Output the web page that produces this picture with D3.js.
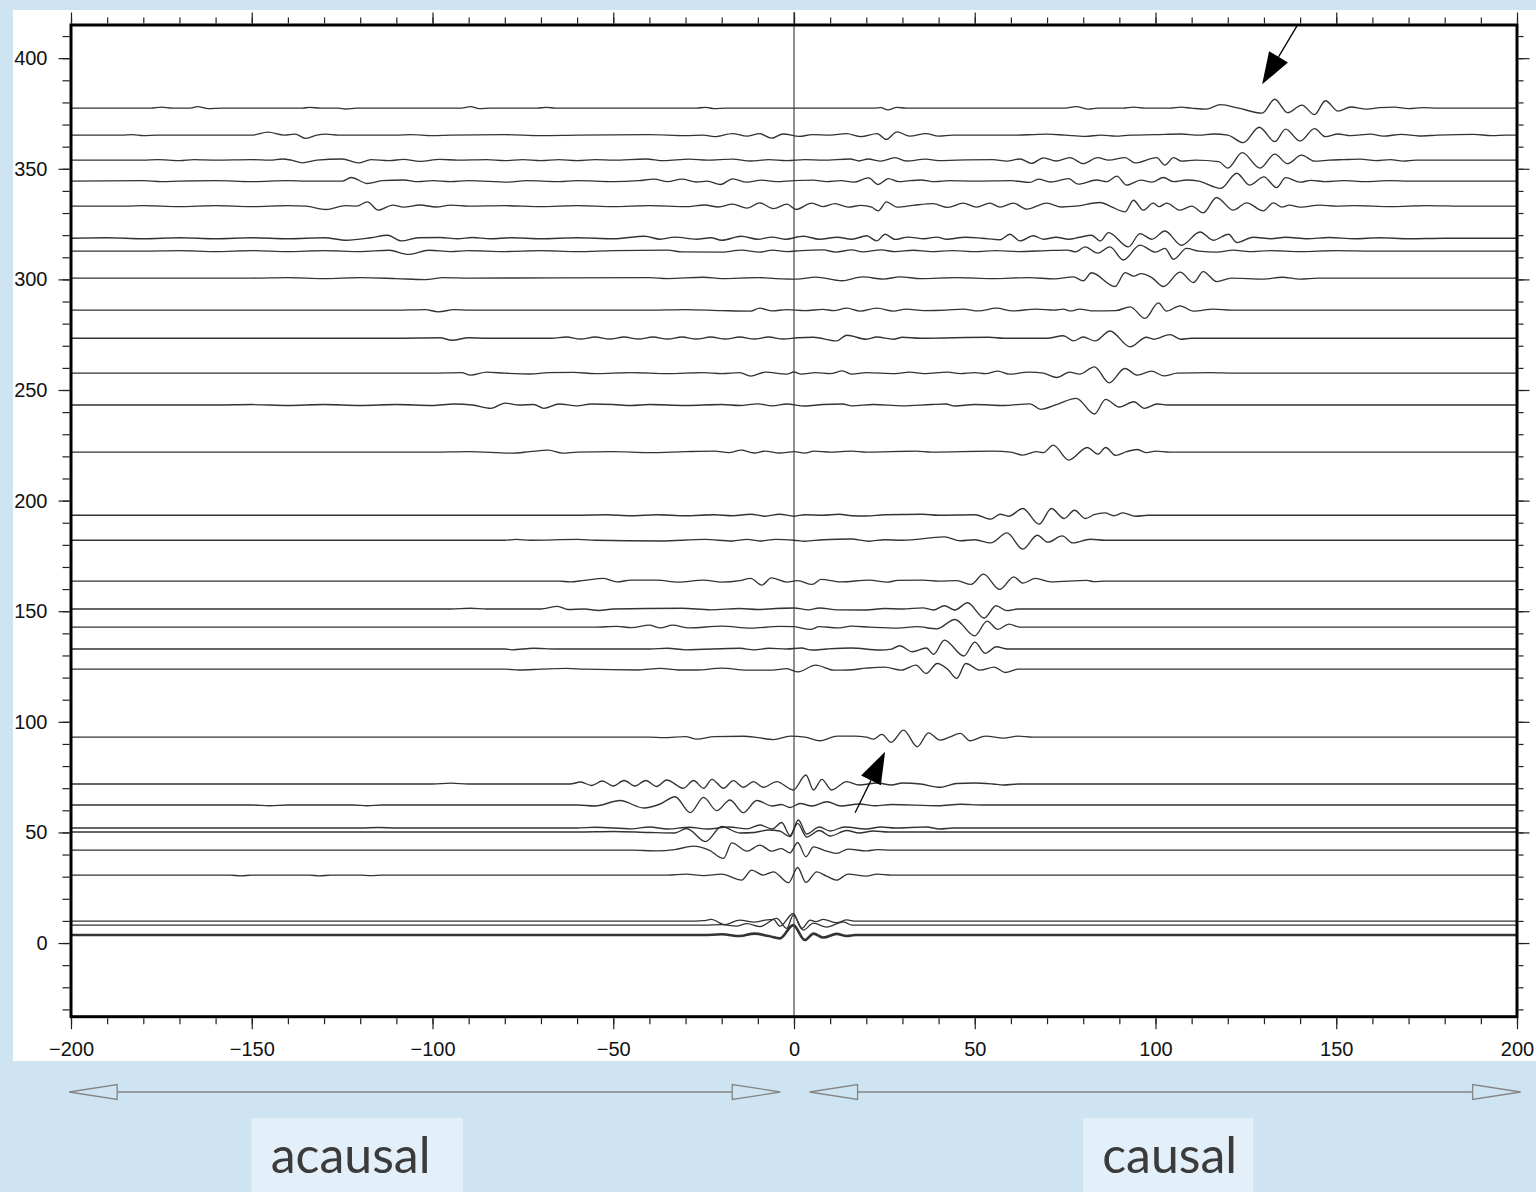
<!DOCTYPE html>
<html>
<head>
<meta charset="utf-8">
<script src="https://cdn.jsdelivr.net/npm/d3@7"></script>
<style>
  html, body { margin: 0; padding: 0; background: #cfe4f3; }
  svg { display: block; }
</style>
</head>
<body>
<svg id="chart" width="1536" height="1192"></svg>
<script>
// Noise cross-correlation gather: lag time (s) against inter-station distance (km)
const lagDomain = [-200, 200];
const distDomain = [-33.3, 415];
const lagTicks = d3.range(-200, 201, 50);
const lagMinorTicks = d3.range(-200, 201, 10);
const distTicks = d3.range(0, 401, 50);
const distMinorTicks = d3.range(-30, 411, 10);
const ampGain = 4.5; // km of distance per unit of normalised amplitude

// distance of every station pair (km), top to bottom
const traceOffsets = [
  377.4, 365.2, 353.9, 344.4, 333.1, 318.6, 312.8, 300.6, 286.1, 273.4,
  257.6, 243.2, 221.9, 193.4, 182.1, 163.6, 151.0, 142.8, 132.9, 123.8,
  93.1, 71.9, 62.4, 52.0, 50.2, 42.0, 30.7, 9.9, 8.1, 3.6
];

// turning points of each correlogram: lag (s), normalised amplitude, ...
const traceExtrema = [
  [-200,0, -178,0, -175,0.1, -172,0, -167,0, -165,0.15, -162,-0.05, -158,0, -136,0, -134,0.08, -131,0, -126,0, -124,-0.08, -121,0,
   -92,0, -89.5,0.15, -87,-0.05, -84,0, -71,0, -68.5,0.08, -66,0, -27,0, -24.5,0.08, -22,-0.05, -19,0, 22,0, 24,0.05, 26,-0.17,
   28.5,0.08, 31,0, 75,0, 78,0.15, 81.5,-0.1, 84,0, 91,0, 94,0.1, 97,0, 104,0, 107,0.1, 110,0, 114,-0.1, 118,0.35, 123,0,
   129.5,-0.5, 133,0.9, 136.5,-0.45, 140.5,0.3, 144,-0.65, 147,0.75, 150.5,-0.3, 154,0.12, 158.5,-0.1, 162,0.05, 166,0.1,
   170,-0.05, 174,0.05, 178,0, 200,0],
  [-200,0, -186,0, -183,0.05, -180,-0.05, -176,0, -150,0, -145.5,0.3, -141,0, -138,0.1, -135,-0.33, -132,0, -129.5,0.1, -126,0,
   -110,0, -106,0.05, -100,-0.05, -95,0, -80,0.05, -70,-0.05, -60,0, -40,0.05, -30,-0.05, -25,0, -22,-0.15, -17,0.15, -13,-0.1,
   -9.5,0.15, -6.3,-0.3, -3,0.12, 1.5,-0.12, 5,0.05, 10,0, 14.5,0.15, 18.5,-0.15, 23,0.15, 25.5,-0.43, 28.5,0.33, 32,-0.1,
   36.5,0.15, 40,-0.1, 44,0, 60,0, 66,0.05, 70,0.1, 75,0, 80.5,-0.12, 85,0, 89,-0.1, 93,0, 100,0.05, 107,0.12, 112,0, 116,0.12,
   120,0, 124.3,-0.75, 128.7,0.8, 133,-0.65, 136,0.6, 140,-0.6, 144,0.65, 147,-0.15, 150.5,0.12, 154,-0.05, 159.5,0.1,
   163,-0.1, 168,0.08, 173,-0.08, 178,0, 188,0.08, 193,-0.05, 197,0, 200,0],
  [-200,0, -180,0, -176,0.05, -170,-0.05, -166,0.05, -160,0, -150,0.05, -145,0, -141.5,0.12, -139,0, -136,-0.27, -132,0,
   -125,0.12, -120.5,-0.27, -117,0.05, -112,-0.05, -108,0.08, -103.5,-0.12, -98,0.08, -93,0, -85,0.05, -80,-0.05, -75,0.05,
   -70,-0.05, -65,0.05, -60,-0.05, -55,0.05, -50,0, -41,0.12, -36,-0.05, -29,0.1, -24,0, -17,0.1, -12,-0.08, -7,0.05, -2,-0.05,
   3,0.05, 8,0, 15.5,0.12, 18,-0.08, 20.5,0.12, 24,-0.1, 28,0.25, 31,-0.08, 36.5,0.1, 40,-0.05, 45,0, 55,0.05, 58.8,-0.1,
   62.5,0.12, 65.7,-0.33, 69,0.23, 72.5,-0.08, 76.3,0.25, 80,-0.35, 84,0.25, 87,0, 91.6,0.25, 94.3,-0.27, 100.3,0.25,
   102.6,-0.5, 105,0.25, 107.2,-0.1, 111,0, 117.5,-0.15, 120,-0.8, 124,0.75, 128.9,-0.8, 133,0.6, 136.5,-0.35, 140.4,0.5,
   144,-0.1, 148,0, 152,0.05, 156.6,0.1, 161,-0.05, 165,0.05, 168.5,-0.1, 172,0, 200,0],
  [-200,0, -180,0.05, -175,-0.05, -170,0, -160,0.05, -150,-0.05, -140,0.05, -135,0, -125,0, -122.5,0.37, -118,-0.23, -114,0.05,
   -108,0.12, -104,-0.05, -100,0.05, -95,-0.05, -90,0.05, -79,-0.1, -74,0.05, -65,-0.05, -60,0.05, -50,-0.05, -43,0.05,
   -38.7,0.2, -35,-0.05, -31,0.2, -27,-0.08, -24,0, -20.3,-0.33, -17,0.23, -13,-0.1, -9,0.1, -5,-0.05, 0,0.05, 5.3,0.1,
   9,-0.05, 13,0.05, 16.5,-0.1, 20.6,0.33, 23.3,-0.33, 26.1,0.25, 29,-0.05, 32,0.05, 35,0.12, 39,-0.05, 43,0.05, 50,0,
   60,0.05, 65.3,-0.12, 67.6,0.2, 71,-0.08, 76,0.25, 78.6,-0.3, 83.7,0.12, 86.5,-0.05, 89.3,0.5, 92,-0.4, 96,0.1, 99,-0.1,
   102.2,0.37, 105,-0.05, 108.6,0.12, 112,0, 118,-0.73, 122.5,0.8, 126,-0.4, 130,0.43, 133.5,-0.65, 136,0.35, 140,-0.1,
   143,0.08, 147,-0.05, 152,0.05, 158,-0.05, 165,0.05, 170,0, 200,0],
  [-200,0, -185,0, -180,0.05, -170,-0.05, -160,0.05, -150,-0.05, -140,0.05, -135,0, -129.5,-0.33, -124,0.05, -121,0,
   -118,0.43, -115,-0.4, -111,0.1, -108,-0.1, -103.5,0.12, -99,-0.08, -95,0.1, -90,0, -80,0.05, -70,-0.05, -60,0.05,
   -50,-0.05, -40,0.05, -30,-0.05, -24.7,0.12, -21,-0.08, -17,0.2, -13,-0.2, -9.5,0.33, -5.7,-0.25, -1.9,0.2, 0.5,-0.33,
   4.9,0.3, 8,-0.05, 11.3,0.25, 15,-0.1, 18.5,0.08, 21.5,-0.1, 23.3,-0.47, 25.6,0.43, 28.5,-0.1, 33,0.08, 38.5,0.25,
   42.5,-0.12, 46.8,0.3, 50.5,-0.1, 54.2,0.3, 57,-0.1, 60.7,0.3, 64.4,-0.3, 69.9,0.3, 74,-0.08, 78,0, 84.7,0.37, 88,-0.1,
   91.6,-0.57, 93.9,0.6, 96.6,-0.4, 99.4,0.3, 101,-0.05, 103.1,0.3, 106.8,-0.4, 110,0, 113.2,-0.67, 116.9,0.87, 121.5,-0.4,
   125.2,0.33, 129.8,-0.47, 132.6,0.33, 135,-0.1, 137,0.1, 140,-0.1, 145.5,0.1, 150,0, 155,0.05, 165,-0.05, 175,0.05,
   185,0, 200,0],
  [-200,0, -190,0.05, -180,-0.05, -170,0.05, -160,-0.05, -150,0.05, -140,-0.05, -130,0.05, -123.8,-0.2, -117,0.05,
   -112.4,0.3, -108.6,-0.27, -104,0.05, -98,0.08, -93,-0.05, -89,0.08, -84,-0.05, -78,0.05, -70,-0.05, -60,0.05, -50,-0.05,
   -41.3,0.2, -37,-0.1, -33,0.12, -27,-0.1, -23,0.05, -20,-0.2, -14.6,0.2, -10,-0.1, -6,0.12, -2.5,-0.1, 2.6,0.2, 7,-0.1,
   12,0.1, 16,-0.1, 20.1,0.25, 22.9,-0.27, 25.2,0.4, 28,-0.12, 31.5,0.12, 36,-0.05, 39.5,0.12, 42,-0.1, 47.5,0.1, 52,0,
   57,-0.15, 59.7,0.4, 62.5,-0.27, 66.2,0.25, 69,-0.1, 72.5,0.1, 76,-0.1, 79,0.1, 82.3,0.3, 84.7,-0.27, 87,0.57, 92.5,-0.87,
   95.7,0.47, 99,-0.1, 102.6,0.73, 107.2,-0.7, 112.3,0.63, 116,-0.2, 120.2,0.4, 122.5,-0.43, 127,0.1, 132,-0.05, 136,0.1,
   142,-0.05, 148,0.08, 155,-0.05, 162,0.05, 170,-0.05, 180,0, 200,0],
  [-200,0, -180,0, -170,0.05, -160,-0.05, -150,0.05, -140,-0.05, -130,0.05, -120,-0.05, -112,0.08, -106.7,-0.33, -101,0.08,
   -95,-0.05, -90,0.05, -80,-0.05, -70,0.05, -60,-0.05, -50,0.05, -35,0.1, -31,-0.08, -20,-0.1, -14.6,0.1, -9.5,-0.1, -6,0.1,
   -2,-0.05, 2,0.05, 8,0.12, 11.5,-0.1, 16,0.12, 19,-0.08, 24,0.12, 28,-0.05, 33,0.08, 38,-0.05, 44,0.05, 50,-0.05, 56,0.05,
   62,-0.05, 70,0.05, 75.6,0.1, 78,-0.08, 80.5,0.43, 84,-0.2, 87.4,0.43, 91.1,-0.9, 95.7,0.6, 100,-0.1, 102.6,0.27,
   105,-0.83, 108.6,0.27, 112,0, 117,-0.1, 121.5,0.1, 126,-0.05, 132,0.05, 140,-0.05, 150,0.05, 160,0, 200,0],
  [-200,0, -150,0, -140,0.05, -130,-0.05, -120,0.05, -110,-0.05, -102,-0.15, -97,0.05, -90,0, -40,0.05, -35,-0.05, -25,0.08,
   -20,-0.05, -10,0.05, -5,-0.05, 0.8,-0.1, 6,0.1, 13.2,-0.27, 19,0.12, 24.7,-0.1, 29.3,0.12, 35,-0.05, 45,0.05, 55,-0.05,
   65,0.05, 72,-0.08, 77.3,0.12, 80,-0.27, 82.3,0.53, 88.8,-0.85, 91.6,0.55, 94,0.2, 96,0.45, 99,0.05, 102.2,-0.85,
   106.8,0.6, 110.5,-0.45, 113.2,0.65, 116.9,-0.35, 121,0, 130,-0.1, 135,0.08, 140,-0.1, 145,0, 200,0],
  [-200,0, -110,0, -102,0.05, -98.4,-0.17, -94,0.05, -90,0, -40,0, -30,0.05, -20,-0.05, -12,-0.1, -9.5,0.2, -6,-0.08,
   -2,0.05, 3,-0.05, 8,0.08, 11,-0.05, 14.6,0.2, 18.3,-0.1, 22.9,0.2, 27.5,-0.1, 31,0.1, 36,-0.05, 42,0, 46.8,0.1,
   51,-0.08, 56,0.2, 60.5,-0.08, 67,0.1, 72,0, 74.5,0.1, 76.5,-0.08, 79,0.1, 83,-0.08, 89,-0.05, 93,0.33, 97.1,-0.83,
   100.8,0.73, 103,-0.1, 106.8,0.43, 110.5,-0.1, 116,0.1, 121,0, 200,0],
  [-200,0, -110,0, -98,0.05, -94.6,-0.2, -90,0.05, -85,0, -67,0, -63,0.12, -59,-0.08, -55,0.12, -51,-0.08, -47,0.12,
   -43,-0.08, -39,0.12, -35,-0.08, -31,0.12, -27,-0.08, -23,0.12, -19,-0.08, -15,0.12, -11,-0.08, -7,0.12, -3,-0.08,
   1,0.05, 5.3,0.1, 11.8,-0.27, 14.6,0.3, 20,-0.1, 22.9,0.12, 27.5,-0.1, 30,0.1, 35,0, 54,0.1, 58,0, 70,0, 74.5,0.25,
   77.3,-0.27, 80,0.12, 83.3,-0.27, 87.4,0.73, 93,-0.87, 97.5,0.1, 99.5,-0.1, 104,0.37, 107,-0.1, 110,0, 200,0],
  [-200,0, -100,0, -92,0.05, -89.5,-0.2, -85,0.1, -80,0, -73,-0.08, -68,0.05, -61,0.08, -55,-0.05, -45,0.05, -35,-0.05,
   -25,0.05, -20,-0.05, -15,0.05, -12,-0.3, -8,0.1, -2,-0.1, 0,0.12, 2,-0.1, 6,0.05, 10,-0.05, 13.4,0.23, 16,-0.1, 20,0.05,
   28,-0.05, 32,0.1, 36,-0.05, 42.5,0.1, 46,-0.05, 50,0.05, 53,-0.05, 56.4,0.2, 59.5,-0.1, 65,0.1, 69,0, 72.7,-0.43,
   76.2,0.1, 79,-0.1, 83.1,0.63, 87.2,-0.97, 91.5,0.47, 95,-0.2, 98.9,0.2, 102.3,-0.27, 106,0, 115,0.05, 122,0, 200,0],
  [-200,0, -160,0, -150,0.05, -140,-0.05, -130,0.05, -120,-0.05, -110,0.05, -100,-0.05, -94,0.1, -89,0, -83.8,-0.33,
   -80,0.2, -76,0, -72,0.05, -69.2,-0.33, -65,0.1, -60,-0.08, -56,0.1, -50,0.05, -45,-0.05, -40,0.05, -30,-0.05, -20,0.05,
   -15,-0.05, -10,0.12, -6,-0.08, -2,0.1, 3,-0.1, 8,0.05, 13.4,0.1, 16,-0.08, 22,0.05, 30,-0.08, 38,0.05, 42,0.1,
   44.5,-0.1, 50,0.05, 58,-0.05, 65.3,0.12, 68.2,-0.43, 73,0.1, 78.1,0.67, 83.1,-0.9, 86.2,0.57, 90,-0.2, 94,0.33,
   96.9,-0.33, 100.5,0.1, 104,0, 200,0],
  [-200,0, -100,0, -90,0.05, -78,-0.1, -73,0.05, -68,0.2, -64,-0.1, -60,0, -50,0.05, -40,-0.05, -30,0.05, -22,0.1,
   -18,-0.05, -14.6,0.2, -11,-0.08, -8,0.1, -4,-0.08, 0,0.05, 3,-0.1, 5.5,0.1, 10,0, 16,0.1, 20,0, 33.7,0.1, 38,0,
   55,0.1, 60,0, 63.3,-0.3, 67,0.05, 69,-0.05, 71.7,0.7, 76,-0.8, 81.1,0.47, 84.1,-0.2, 86.2,0.47, 89,-0.33, 92,0.05,
   95,0.27, 97.5,-0.05, 100,0.1, 104,0, 200,0],
  [-200,0, -60,0, -52,0.05, -45,-0.05, -38,0.05, -30,-0.05, -22,0.05, -17,-0.05, -12,0.1, -8,-0.1, -4,0.1, 0,-0.1,
   3,0.05, 8,0, 12.5,0.1, 16,-0.05, 20,-0.08, 25,0.05, 35.6,0.1, 40,0, 50,0.05, 54.4,-0.4, 57,0.1, 59.4,-0.1, 63.3,0.67,
   67.8,-0.9, 71.2,0.67, 74.7,-0.33, 77.6,0.5, 80.6,-0.33, 83,0.05, 86,0.23, 88.5,-0.05, 91,0.23, 94.5,-0.1, 98,0, 200,0],
  [-200,0, -80,0, -76.8,0.08, -73,0, -60,0.08, -55,0, -37,-0.08, -24.7,0.08, -17,-0.08, -13,0.08, -9.5,-0.08, -5,0.08,
   0,0, 3,-0.1, 8,0.05, 15.8,0.12, 20.8,-0.1, 25,0.05, 30,0, 41.6,0.33, 46,-0.05, 50,0.05, 54.4,-0.27, 58.9,0.73,
   63.3,-0.9, 67.3,0.5, 70.2,-0.2, 74.2,0.43, 77.1,-0.27, 82,0.1, 86,0, 200,0],
  [-200,0, -65,0, -62,-0.08, -58,0.08, -52.7,0.27, -49,-0.08, -45,0.1, -38,0.1, -32,-0.1, -25,0.1, -20,-0.1, -15,0.05,
   -12,0.27, -8.9,-0.4, -6.3,0.33, -2,-0.1, 1,0.05, 5,-0.33, 7.5,0.17, 12.9,-0.08, 20.8,0.1, 25.8,-0.1, 28.7,0.08,
   35.6,0.1, 40,0, 45,0.05, 49,-0.33, 52.4,0.7, 56.9,-0.83, 60.8,0.43, 63.3,-0.2, 66.8,0.27, 71,-0.08, 81,0.08,
   83,-0.05, 86,0, 200,0],
  [-200,0, -95,0, -89.5,0.08, -85,0, -70,0, -65.4,0.27, -62.5,-0.05, -58,0, -54,-0.15, -50,0, -31,0.08, -23,-0.08,
   -15,0.05, -10,-0.05, -5,0.05, 0,0.1, 4,-0.08, 7,0.1, 12,-0.08, 20,-0.1, 25,0.05, 30,0, 35.6,0.12, 38.6,-0.1,
   41.6,0.33, 44.5,-0.1, 48,0.63, 52.6,-0.9, 55.9,0.33, 58.9,-0.17, 62,0, 200,0],
  [-200,0, -55,0, -49,0.08, -45,-0.05, -40,0.2, -37,-0.08, -33.6,0.2, -29,-0.08, -20,0.1, -12,-0.1, -4,0.08, 0,0.05,
   4.5,-0.23, 7,0.05, 12,-0.08, 16,0.1, 21,0, 28.7,-0.1, 34,0.05, 39.5,-0.17, 44.5,0.77, 50,-0.87, 53.4,0.6, 56.4,-0.23,
   59.4,0.3, 62.5,0, 200,0],
  [-200,0, -80,0, -78,-0.08, -72,0.08, -66,0, -40,0, -35,0.08, -30,-0.08, -15,0.08, -11,-0.08, -7,0.08, -2,0, 2,0.1,
   5,-0.1, 9,0, 15.8,0.1, 23.8,-0.1, 27,0, 29.2,0.33, 32.7,-0.27, 36.6,0.1, 38.6,-0.53, 41.6,0.9, 47,-0.7, 50,0.7,
   52.9,-0.43, 56,0.23, 59,0, 200,0],
  [-200,0, -80,0, -76,-0.08, -70,0, -63,0.08, -58,0, -43,-0.08, -37,0.08, -32,-0.08, -27,-0.08, -20,0.1, -13,-0.1,
   -6,-0.1, -2,0.05, 1.1,-0.27, 6,0.4, 11,-0.1, 15,-0.08, 20,0.1, 25,0.2, 29.7,-0.1, 33.7,0.4, 36.6,-0.43, 39.6,0.57,
   42.5,0, 45,-0.93, 47.5,0.57, 51.5,-0.1, 55.4,0.2, 58.4,-0.33, 62,0, 200,0],
  [-200,0, -40,0, -36,-0.05, -30,0.05, -26.9,-0.2, -22,0.05, -14,0.08, -10,-0.05, -5.7,-0.25, -1,0.1, 3,0, 7.2,-0.37,
   12,0.1, 16.5,0.1, 20,0, 22,-0.2, 24.3,0.27, 26.9,-0.53, 30.3,0.7, 34.1,-0.97, 37.2,0.43, 40.4,-0.3, 43,0, 46,0.37,
   48.7,-0.37, 53,0.1, 58,-0.1, 62,0.1, 66,0, 200,0],
  [-200,0, -100,0, -95,0.08, -90,0, -62,0, -59,0.2, -56,-0.15, -53,0.3, -50,-0.2, -47,0.35, -44,-0.2, -41,0.35, -38,-0.25,
   -35.2,0.4, -30.6,-0.43, -27.8,0.35, -25,-0.43, -22.7,0.47, -19.5,-0.43, -16.8,0.33, -14,-0.33, -11.2,0.23, -8.5,-0.33,
   -4.8,0.23, -0.2,-0.6, 3.3,0.9, 5.4,-0.6, 7.7,0.47, 10.4,-0.6, 14.6,0.23, 18,-0.1, 23,0.1, 27,-0.1, 30,0.1, 35,0,
   40.4,-0.33, 45,0.05, 50,0.1, 55,0, 58,-0.1, 62,0, 200,0],
  [-200,0, -150,0, -145,-0.08, -140,0, -122,0, -118,-0.08, -114,0, -60,0, -55,-0.1, -48.1,0.45, -41.6,-0.3, -37,0.1,
   -32.9,0.83, -28.7,-0.77, -25,0.77, -21.4,-0.57, -17.7,0.5, -14,-0.77, -10.3,0.45, -6,-0.1, -3.5,0.05, -1.1,-0.25,
   1.7,0.15, 5,-0.1, 9.1,0.33, 13,-0.1, 18,0.1, 22.5,-0.08, 27,0.05, 40,-0.08, 46,0.08, 52,0, 200,0],
  [-200,0, -120,0, -115,0.05, -110,0, -60,0, -55,0.08, -45,-0.08, -40,0.1, -35,-0.1, -29,0.08, -24,-0.1, -18,0.1,
   -13,-0.08, -9.4,0.3, -6,-0.1, -3.4,0.55, -1.1,-0.75, 1.2,0.8, 3.5,-0.6, 7,0.1, 10,-0.3, 14,0.1, 20,-0.1, 24,0.1,
   28,0, 36.6,0.1, 40.4,-0.1, 44,0, 200,0],
  [-200,0, -60,0, -50,0.05, -40,-0.05, -33,-0.1, -29.7,0.35, -24.5,-0.97, -20,0.55, -15,-0.1, -11,-0.05, -7,0.2, -4,0.1,
   -1.1,-0.47, 1,0.87, 3.5,-0.5, 7,0.15, 10,-0.4, 14.6,0.15, 18,-0.1, 22,0.1, 26,0, 200,0],
  [-200,0, -45,0, -38,-0.08, -33,0.05, -27.8,0.4, -23.5,0, -19.5,-0.83, -17.2,0.73, -13,-0.1, -9.4,0.5, -6.2,-0.1,
   -3.5,0.15, -1.1,-0.27, 1,0.77, 3.3,-0.67, 5.4,0.33, 8.5,-0.05, 11.8,-0.33, 15,0.1, 20,-0.08, 23,0.05, 27,0, 200,0],
  [-200,0, -156,0, -153,-0.08, -150,0, -134,0, -131.4,-0.08, -128,0, -120,0, -117,-0.05, -114,0, -35,0, -29.8,0.1,
   -25,-0.05, -20,0.1, -14.5,-0.5, -11.7,0.5, -8.5,0, -5.7,0.33, -1.5,-0.77, 1,0.77, 3.3,-0.73, 6.3,0.33, 9,-0.1,
   11.8,-0.5, 15,0.1, 20,-0.1, 23,0.1, 27,0, 200,0],
  [-200,0, -30,0, -25,0.05, -22.9,0.17, -19.2,-0.35, -15,0.1, -11,-0.1, -8,0.1, -5.7,0.17, -3.9,-0.5, -0.2,0.77,
   2.1,-0.73, 4.5,0.1, 6,-0.05, 8.1,0.17, 11.8,-0.15, 14.6,0.12, 17,0, 200,0],
  [-200,0, -25,0, -20,0.05, -16,-0.1, -13,0.15, -9.4,-0.15, -4.8,0.67, -2,-0.33, -0.2,1.0, 2.6,-0.5, 5.4,0.2, 9,-0.2,
   13.7,0.33, 16,0, 200,0],
  [-200,0, -25,0, -20,0.08, -15,-0.1, -11,0.15, -7,-0.1, -3.9,-0.33, -0.2,1.0, 3,-0.5, 5.4,0.15, 8.1,-0.25, 11.8,0.12,
   14.6,-0.1, 17,0, 200,0]
];

// highlighted arrivals: arrow tail and tip as [lag, distance]
const arrowTails = [[139.1, 414.5], [16.9, 58.9]];
const arrowTips = [[129.5, 388.2], [25.2, 86.5]];

// negative and positive lag branches
const branchSpans = [[-200.5, -3.8], [4.3, 201]];
const branchLabels = ["acausal", "causal"];

const svg = d3.select("#chart");
const frame = { left: 71, right: 1517, top: 25, bottom: 1016.7 };

const x = d3.scaleLinear().domain(lagDomain).range([frame.left, frame.right]);
const y = d3.scaleLinear().domain(distDomain).range([frame.bottom, frame.top]);

// white figure panel
svg.append("rect").attr("x", 13).attr("y", 10).attr("width", 1523).attr("height", 1051).attr("fill", "#ffffff");

svg.append("clipPath").attr("id", "plotClip").append("rect")
  .attr("x", frame.left).attr("y", frame.top)
  .attr("width", frame.right - frame.left).attr("height", frame.bottom - frame.top);

// zero-lag reference line
svg.append("line")
  .attr("x1", x(0)).attr("x2", x(0)).attr("y1", 12).attr("y2", frame.bottom)
  .attr("stroke", "#555").attr("stroke-width", 1.3);

// correlograms
const pairs = arr => d3.range(0, arr.length, 2).map(i => [arr[i], arr[i + 1]]);
const traceLayer = svg.append("g").attr("clip-path", "url(#plotClip)");
traceOffsets.forEach((off, i) => {
  const line = d3.line()
    .x(d => x(d[0]))
    .y(d => y(off + d[1] * ampGain))
    .curve(d3.curveMonotoneX);
  traceLayer.append("path")
    .datum(pairs(traceExtrema[i]))
    .attr("d", line)
    .attr("fill", "none")
    .attr("stroke", "#333")
    .attr("stroke-width", i === traceOffsets.length - 1 ? 2.6 : 1.35)
    .attr("stroke-linejoin", "round");
});

// axes
const tickStyle = g => {
  g.select(".domain").remove();
  g.selectAll(".tick line").attr("stroke", "#222").attr("stroke-width", 1.2);
  g.selectAll(".tick text").attr("fill", "#111")
    .style("font-family", "'Liberation Sans', Arial, sans-serif").style("font-size", "20px");
};
const fmt = d3.format("d");

svg.append("g").attr("transform", `translate(0,${frame.bottom + 1.5})`)
  .call(d3.axisBottom(x).tickValues(lagMinorTicks).tickSize(6).tickFormat("")).call(tickStyle);
svg.append("g").attr("transform", `translate(0,${frame.bottom + 1.5})`)
  .call(d3.axisBottom(x).tickValues(lagTicks).tickSize(11).tickPadding(13).tickFormat(d => fmt(d).replace("-", "\u2212")))
  .call(tickStyle);
svg.append("g").attr("transform", `translate(0,${frame.top - 1.5})`)
  .call(d3.axisTop(x).tickValues(lagMinorTicks).tickSize(6).tickFormat("")).call(tickStyle);
svg.append("g").attr("transform", `translate(0,${frame.top - 1.5})`)
  .call(d3.axisTop(x).tickValues(lagTicks).tickSize(11).tickFormat("")).call(tickStyle);
svg.append("g").attr("transform", `translate(${frame.left - 1.5},0)`)
  .call(d3.axisLeft(y).tickValues(distMinorTicks).tickSize(7).tickFormat("")).call(tickStyle);
svg.append("g").attr("transform", `translate(${frame.left - 1.5},0)`)
  .call(d3.axisLeft(y).tickValues(distTicks).tickSize(11).tickPadding(11).tickFormat(fmt)).call(tickStyle);
svg.append("g").attr("transform", `translate(${frame.right + 1.5},0)`)
  .call(d3.axisRight(y).tickValues(distMinorTicks).tickSize(5).tickFormat("")).call(tickStyle);
svg.append("g").attr("transform", `translate(${frame.right + 1.5},0)`)
  .call(d3.axisRight(y).tickValues(distTicks).tickSize(11).tickFormat("")).call(tickStyle);

// plot frame
svg.append("rect")
  .attr("x", frame.left).attr("y", frame.top)
  .attr("width", frame.right - frame.left).attr("height", frame.bottom - frame.top)
  .attr("fill", "none").attr("stroke", "#000").attr("stroke-width", 3);

// arrows pointing at the surface-wave arrivals
arrowTails.forEach((tail, i) => {
  const tip = arrowTips[i];
  const tx = x(tail[0]), ty = y(tail[1]);
  const px = x(tip[0]), py = y(tip[1]);
  const len = Math.hypot(px - tx, py - ty);
  const ux = (px - tx) / len, uy = (py - ty) / len;
  const headLen = 32, headHalf = 11;
  const bx = px - ux * headLen, by = py - uy * headLen;
  svg.append("line").attr("x1", tx).attr("y1", ty).attr("x2", bx).attr("y2", by)
    .attr("stroke", "#000").attr("stroke-width", 1.3);
  svg.append("polygon")
    .attr("points", [[px, py], [bx - uy * headHalf, by + ux * headHalf], [bx + uy * headHalf, by - ux * headHalf]].map(p => p.join(",")).join(" "))
    .attr("fill", "#000");
});

// branch arrows below the lag axis
const arrowY = 1092, bHead = 48, bHalf = 7.5;
branchSpans.forEach(span => {
  const x0 = x(span[0]), x1 = x(span[1]);
  const g = svg.append("g").attr("stroke", "#858585").attr("stroke-width", 1.3);
  g.append("line").attr("x1", x0 + bHead).attr("x2", x1 - bHead).attr("y1", arrowY).attr("y2", arrowY);
  g.append("polygon").attr("fill", "none")
    .attr("points", `${x0},${arrowY} ${x0 + bHead},${arrowY - bHalf} ${x0 + bHead},${arrowY + bHalf}`);
  g.append("polygon").attr("fill", "none")
    .attr("points", `${x1},${arrowY} ${x1 - bHead},${arrowY - bHalf} ${x1 - bHead},${arrowY + bHalf}`);
});

// branch labels
const labelBoxes = [{ left: x(-150), width: 211 }, { left: x(80), width: 170 }];
branchLabels.forEach((label, i) => {
  const b = labelBoxes[i];
  svg.append("rect").attr("x", b.left).attr("y", 1118).attr("width", b.width).attr("height", 80)
    .attr("fill", "#e3f0f9");
  svg.append("text").attr("x", b.left + 19).attr("y", 1173)
    .attr("fill", "#3b3b3b")
    .style("font-family", "Lato, 'Open Sans', sans-serif").style("font-size", "50px")
    .text(label);
});
</script>
</body>
</html>
